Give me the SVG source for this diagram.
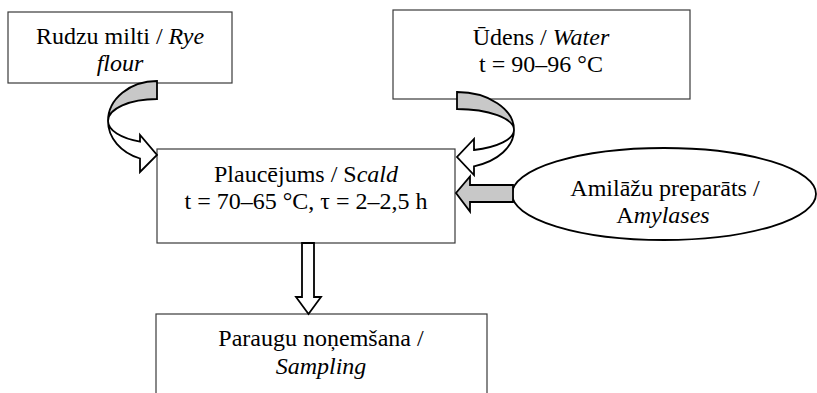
<svg xmlns="http://www.w3.org/2000/svg" width="817" height="393" viewBox="0 0 817 393">
<style>
.box{fill:#fff;stroke:#3a3a3a;stroke-width:1.2}
.t{font-family:"Liberation Serif","Times New Roman",serif;font-size:24px;fill:#000;text-anchor:middle}
.i{font-style:italic}
.arw{stroke:#000;stroke-width:1.8;stroke-linejoin:miter}
.w{fill:#fff}
.g{fill:#c8c8c8}
</style>
<rect width="817" height="393" fill="#fff"/>
<g id="node-rye-flour">
<rect class="box" x="8" y="12" width="224" height="71"/>
<text class="t" x="120" y="44">Rudzu milti / <tspan class="i">Rye</tspan></text>
<text class="t i" x="120" y="71">flour</text>
</g>
<g id="node-water">
<rect class="box" x="393" y="10" width="297" height="89"/>
<text class="t" x="541" y="44.5">Ūdens / <tspan class="i">Water</tspan></text>
<text class="t" x="541" y="72">t = 90–96 °C</text>
</g>
<g id="node-scald">
<rect class="box" x="157" y="149" width="298" height="94"/>
<text class="t" x="306" y="182">Plaucējums / S<tspan class="i">cald</tspan></text>
<text class="t" x="306" y="209">t = 70–65 °C, τ = 2–2,5 h</text>
</g>
<g id="node-sampling">
<rect class="box" x="156" y="314" width="331" height="100"/>
<text class="t" x="321" y="346">Paraugu noņemšana /</text>
<text class="t i" x="321" y="374">Sampling</text>
</g>
<g id="node-amylases">
<ellipse cx="664" cy="194" rx="152" ry="46" fill="#fff" stroke="#000" stroke-width="1.8"/>
<text class="t" x="665" y="196">Amilāžu preparāts /</text>
<text class="t" x="663" y="223">A<tspan class="i">mylases</tspan></text>
</g>
<g id="connectors">
<path class="arw g" d="M157,81 A49,40 0 0 0 108,121 A49,22 0 0 1 157,99 Z"/>
<path class="arw w" d="M108,121 A49,40 0 0 0 140,158.5 L140,172 L157,155 L140,135 L140,141.6 A49,22 0 0 1 108,121 Z"/>
<path class="arw g" d="M457,92 A57,38 0 0 1 514,130 A57,21 0 0 0 457,109 Z"/>
<path class="arw w" d="M514,130 A57,38 0 0 1 474,166.3 L474,175 L457,157 L474,139 L474,150 A57,21 0 0 0 514,130 Z"/>
<path class="arw g" d="M513,185 L470,185 L470,176.5 L456,193 L470,211.5 L470,202 L513,202 Z"/>
<path class="arw w" d="M302,243 L314,243 L314,297 L321,297 L308.5,314 L296,297 L302,297 Z"/>
</g>
</svg>
